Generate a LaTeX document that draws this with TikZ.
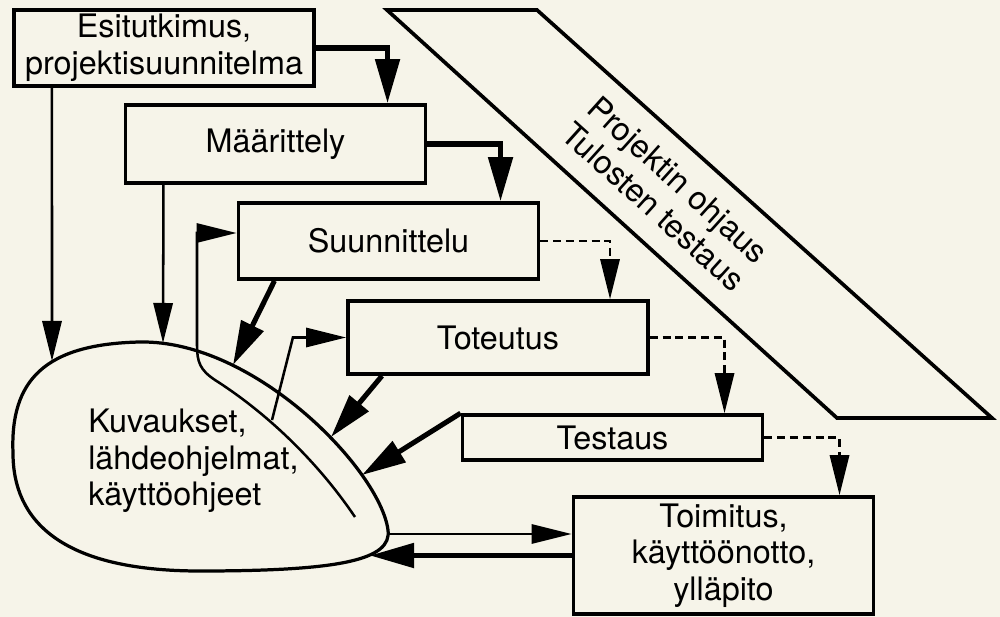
\documentclass[tikz,border=0pt]{standalone}
\usepackage{fontspec}
\setmainfont{TeX Gyre Heros}
\usepackage{tikz}
\usetikzlibrary{arrows.meta, positioning, calc}
\definecolor{papier}{RGB}{246,244,233}

\begin{document}
\begin{tikzpicture}[
x=0.025cm, y=-0.025cm,
>={Triangle[length=1cm, width=0.48cm]},
font=\fontsize{23}{26}\selectfont,
block/.style={draw, line width=2.6pt, minimum width=7.5cm, align=center, inner sep=0pt},
phase/.style={block, minimum height=1.9cm},
mince/.style={->, line width=1.8pt},
epais/.style={-{Triangle[length=1.1cm, width=0.6cm]}, line width=3.6pt},
tirets/.style={mince, dash pattern=on 0.2cm off 0.12cm}
]

% --- Fond ---
\fill[papier] (0,0) rectangle (1000,617);

% --- Phases ---
\node[phase] (esi) at (164,48) {Esitutkimus,\\projektisuunnitelma};
\node[phase, minimum height=1.95cm] (maar) at (275.5,144) {Määrittely};
\node[phase] (suun) at (388.5,241) {Suunnittelu};
\node[phase, minimum height=1.825cm] (tote) at (498,337.5) {Toteutus};
\node[phase, minimum height=1.125cm] (test) at (612.5,437.5) {Testaus};
\node[phase, minimum height=2.925cm] (toim) at (723.5,555.5) {Toimitus,\\käyttöönotto,\\ylläpito};

% --- Bande de pilotage ---
\draw[line width=2.6pt] (387,10) -- (537,10) -- (992,418) -- (837,418) -- cycle;
\node[rotate=-42, align=center] (ohjaus) at (666,193) {Projektin ohjaus\\Tulosten testaus};

% --- Documents (forme libre) ---
\draw[line width=2.3pt, fill=papier] (388,530) .. controls (392,560) and (340,571) .. (200,571)
  .. controls (60,571) and (13,520) .. (13,453)
  .. controls (10,380) and (45,344) .. (140,342)
  .. controls (255,340) and (380,470) .. cycle;
\node[anchor=west, align=left, inner sep=0pt] (docs) at (88,461) {Kuvaukset,\\lähdeohjelmat,\\käyttöohjeet};

% points sur le bord
\coordinate (b-esi) at (52,361);
\coordinate (b-maar) at (163,343);
\coordinate (b-suun) at (233,365);
\coordinate (b-tote) at (331,437);
\coordinate (b-test) at (362,475);
\coordinate (b-out) at (389,534);
\coordinate (b-in) at (370,555);
\coordinate (i-tote) at (272,420);

% --- Enchaînement des phases ---
\draw[epais] (esi.east) -| ([xshift=2.8cm]maar.north);
\draw[epais] (maar.east) -| ([xshift=2.8cm]suun.north);
\draw[tirets] (suun.east) -| ([xshift=2.8cm]tote.north);
\draw[tirets] (tote.east) -| ([xshift=2.8cm]test.north);
\draw[tirets] (test.east) -| ([xshift=2.9cm]toim.north);

% --- Vers les documents ---
\draw[mince] ([xshift=-2.8cm]esi.south) -- (b-esi);
\draw[mince] ([xshift=-2.8cm]maar.south) -- (b-maar);
\draw[epais] ([xshift=-2.85cm]suun.south) -- (b-suun);
\draw[epais] ([xshift=-2.9cm]tote.south) -- (b-tote);
\draw[epais] (test.north west) -- (b-test);
\draw[epais] (toim.west) -- (toim.west -| b-in);

% --- Depuis les documents ---
\draw[mince] (b-out) -- (b-out -| toim.west);
\draw[mince] (355,517) .. controls (320,465) and (270,415) .. (215,380)
  .. controls (200,370) and (197,362) .. (197,345) |- ([yshift=0.2cm]suun.west);
\draw[mince] (i-tote) -- ([xshift=-1.33cm]tote.west) -- (tote.west);

\end{tikzpicture}
\end{document}
